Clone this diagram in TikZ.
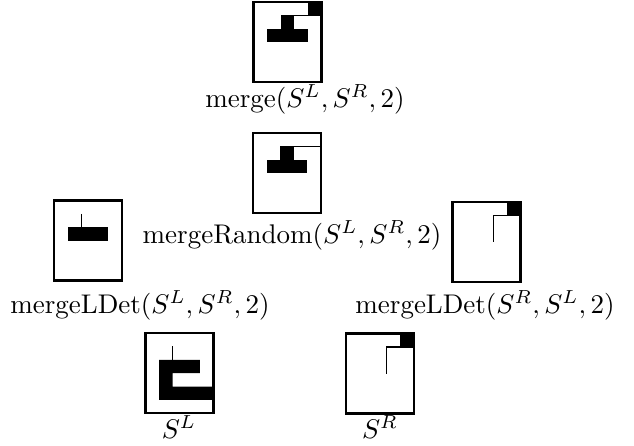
\documentclass[tikz,border=0pt]{standalone}
\begin{document}
\begin{tikzpicture}[x=0.3704pt,y=-0.3704pt,
  box/.style={draw, line width=1pt, minimum width=25.19pt, minimum height=29.63pt, inner sep=0pt, outer sep=0pt},
  lab/.style={inner sep=0.5pt, anchor=north},
  thin/.style={line width=0.5pt},
  blk/.style={fill=black}]
\useasboundingbox (0,0) rectangle (634,446);
% boxes
\node[box] (m) at (287.5,42) {};
\node[box] (mr) at (287,173) {};
\node[box] (ll) at (88,240.5) {};
\node[box] (lr) at (486.5,242) {};
\node[box] (sl) at (179.5,373) {};
\node[box] (sr) at (380,373.5) {};
% labels
\node[lab] (tm) at (305,83) {merge$(S^L, S^R, 2)$};
\node[lab] (tmr) at (292,219) {mergeRandom$(S^L, S^R, 2)$};
\node[lab] (tll) at (140,289) {mergeLDet$(S^L, S^R, 2)$};
\node[lab] (tlr) at (485,289) {mergeLDet$(S^R, S^L, 2)$};
\node[lab] (tsl) at (179,414) {$S^L$};
\node[lab] (tsr) at (380,414) {$S^R$};
% merge
\begin{scope}[shift={(m.north west)}]
  \draw[thin] (40.8,13.4) -- (68,13.4);
  \fill[blk] (27.2,13.4) rectangle (40.8,26.8);
  \fill[blk] (13.6,26.8) rectangle (54.4,40.2);
  \fill[blk] (54.4,0) rectangle (68,13.4);
\end{scope}
% mergeRandom
\begin{scope}[shift={(mr.north west)}]
  \draw[thin] (40.8,13.4) -- (68,13.4);
  \fill[blk] (27.2,13.4) rectangle (40.8,26.8);
  \fill[blk] (13.6,26.8) rectangle (54.4,40.2);
\end{scope}
% mergeLDet(SL,SR)
\begin{scope}[shift={(ll.north west)}]
  \draw[thin] (27.2,13.4) -- (27.2,26.8);
  \fill[blk] (13.6,26.8) rectangle (54.4,40.2);
\end{scope}
% mergeLDet(SR,SL)
\begin{scope}[shift={(lr.north west)}]
  \draw[thin] (68,13.4) -- (40.8,13.4) -- (40.8,40.2);
  \fill[blk] (54.4,0) rectangle (68,13.4);
\end{scope}
% S^L
\begin{scope}[shift={(sl.north west)}]
  \draw[thin] (27.2,13.4) -- (27.2,26.8);
  \fill[blk] (13.6,26.8) -- (54.4,26.8) -- (54.4,40.2) -- (27.2,40.2) -- (27.2,53.6)
     -- (68,53.6) -- (68,67) -- (13.6,67) -- cycle;
\end{scope}
% S^R
\begin{scope}[shift={(sr.north west)}]
  \draw[thin] (68,13.4) -- (40.8,13.4) -- (40.8,40.2);
  \fill[blk] (54.4,0) rectangle (68,13.4);
\end{scope}
\end{tikzpicture}
\end{document}
